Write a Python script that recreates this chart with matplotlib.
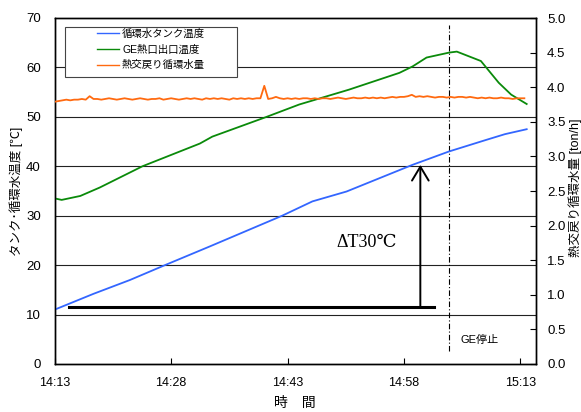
import matplotlib
matplotlib.use('Agg')
import matplotlib.pyplot as plt
from matplotlib.patches import Rectangle

plt.rcParams['font.family'] = ['Liberation Sans', 'Noto Sans CJK JP']

# minutes after 14:13
xticks = [0, 15, 30, 45, 60]
xticklabels = ['14:13', '14:28', '14:43', '14:58', '15:13']

tank_t = [0, 5, 9.7, 14.2, 20, 29.3, 33.2, 37.6, 46.1, 50.8, 55.5, 58, 60.8]
tank_v = [11.0, 14.2, 17.0, 20.0, 23.8, 30.0, 32.9, 34.9, 40.3, 43.0, 45.3, 46.5, 47.5]

ge_t = [0, 0.9, 3.3, 5.8, 11.3, 18.7, 20.3, 27.3, 31.5, 37.9, 44.4, 46.1, 47.9,
        50.8, 51.8, 54.9, 57.2, 58.8, 60.8]
ge_v = [33.5, 33.2, 34.0, 35.7, 40.0, 44.6, 46.0, 50.0, 52.5, 55.5, 58.9, 60.2, 62.0,
        63.0, 63.2, 61.3, 56.9, 54.5, 52.6]

# return flow, every 0.5 min [ton/h]
flow_v = [3.79, 3.80, 3.81, 3.82, 3.81, 3.82, 3.82, 3.83, 3.82, 3.87,
          3.83, 3.83, 3.82, 3.83, 3.84, 3.83, 3.82, 3.83, 3.84, 3.83,
          3.82, 3.83, 3.84, 3.83, 3.82, 3.83, 3.83, 3.84, 3.82, 3.83,
          3.84, 3.83, 3.82, 3.83, 3.84, 3.83, 3.84, 3.83, 3.82, 3.84,
          3.83, 3.84, 3.83, 3.84, 3.83, 3.82, 3.84, 3.83, 3.84, 3.83,
          3.84, 3.83, 3.84, 3.84, 4.02, 3.83, 3.84, 3.86, 3.84, 3.83,
          3.84, 3.83, 3.84, 3.83, 3.84, 3.84, 3.83, 3.84, 3.83, 3.84,
          3.84, 3.83, 3.84, 3.85, 3.84, 3.83, 3.84, 3.85, 3.84, 3.84,
          3.85, 3.84, 3.85, 3.84, 3.85, 3.84, 3.85, 3.86, 3.85, 3.86,
          3.86, 3.87, 3.89, 3.86, 3.87, 3.86, 3.87, 3.86, 3.85, 3.86,
          3.86, 3.85, 3.86, 3.85, 3.86, 3.86, 3.85, 3.86, 3.85, 3.84,
          3.85, 3.84, 3.85, 3.84, 3.84, 3.85, 3.84, 3.84, 3.83, 3.84,
          3.84, 3.84]
flow_t = [i * 0.5 for i in range(len(flow_v))]

ge_stop = 50.8
dt_x = 47.1
dt_low, dt_high = 11.6, 40.3
base_start, base_end = 1.9, 48.8

fig = plt.figure(figsize=(5.81, 4.12), dpi=100)
ax = fig.add_axes([54.7 / 581, 48 / 412, (536 - 54.7) / 581, 346 / 412])
ax2 = ax.twinx()

for y in range(10, 70, 10):
    ax.axhline(y, color='#222222', lw=0.8, zorder=1)

l1, = ax.plot(tank_t, tank_v, color='#3366ff', lw=1.3, zorder=3)
l2, = ax.plot(ge_t, ge_v, color='#0a8a0a', lw=1.3, zorder=3)
l3, = ax2.plot(flow_t, flow_v, color='#ff6a10', lw=1.3, zorder=3)

ax.plot([ge_stop, ge_stop], [2.6, 68.6], color='black', lw=0.8,
        linestyle=(0, (5, 2, 1, 2)), zorder=2)
ax.text(52.3, 4.9, 'GE停止', fontsize=8, va='center', ha='left')

ax.plot([base_start, base_end], [dt_low, dt_low], color='black', lw=2.2, zorder=4)
ax.annotate('', xy=(dt_x, dt_high), xytext=(dt_x, dt_low),
            arrowprops=dict(arrowstyle='->,head_length=0.5,head_width=0.3',
                            color='black', lw=1.4, mutation_scale=20,
                            shrinkA=0, shrinkB=0), zorder=4)
ax.text(36.3, 24.5, 'ΔT30℃', fontsize=13, va='center', ha='left',
        family=['Liberation Serif', 'DejaVu Serif', 'Noto Sans CJK JP'])

ax.set_xlim(0, 62)
ax.set_ylim(0, 70)
ax2.set_ylim(0, 5)
ax.set_xticks(xticks)
ax.set_xticklabels(xticklabels)
ax.set_yticks(range(0, 71, 10))
ax2.set_yticks([i * 0.5 for i in range(11)])
ax2.set_yticklabels([f'{i * 0.5:.1f}' for i in range(11)])

ax.tick_params(axis='x', direction='in', length=4, labelsize=9, pad=9)
ax.tick_params(axis='y', direction='in', length=0, labelsize=9.5, pad=10)
ax2.tick_params(axis='y', direction='in', length=4, labelsize=9.5, pad=8)

ax.set_ylabel('タンク･循環水温度 [℃]', fontsize=9)
ax.yaxis.set_label_coords(-0.066, 0.5)
ax2.set_ylabel('熱交戻り循環水量 [ton/h]', fontsize=9)
ax2.yaxis.set_label_coords(1.0665, 0.51)
fig.text(295 / 581, 1 - 403 / 412, '時　間', fontsize=10, ha='center', va='center')

for a in (ax, ax2):
    for s in a.spines.values():
        s.set_linewidth(1.0)

# legend box like the spreadsheet one
box = Rectangle((0.0214, 0.8295), 0.3566, 0.1445, transform=ax2.transAxes,
                facecolor='white', edgecolor='#444444', lw=0.8, zorder=5)
ax2.add_patch(box)
leg = ax2.legend([l1, l2, l3], ['循環水タンク温度', 'GE熱口出口温度', '熱交戻り循環水量'],
                 loc='upper left', bbox_to_anchor=(0.088, 0.97),
                 fontsize=7.5, frameon=False, handlelength=2.1,
                 handletextpad=0.3, borderpad=0, labelspacing=0.55,
                 borderaxespad=0)
leg.set_zorder(6)
for h in leg.get_lines():
    h.set_linewidth(1.0)

fig.savefig('out.png', dpi=100)
